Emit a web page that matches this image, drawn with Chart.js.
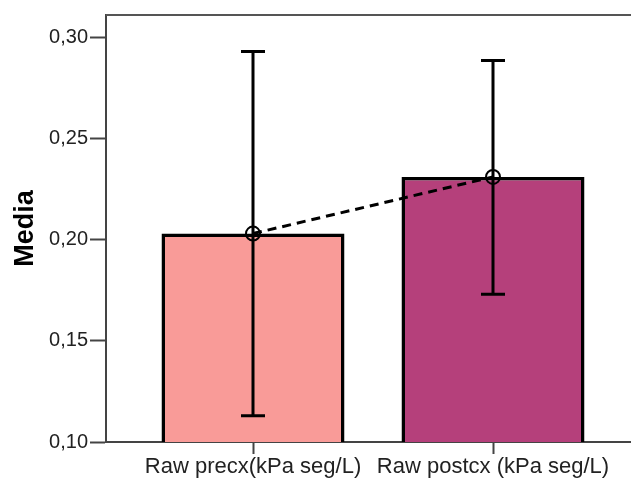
<!DOCTYPE html>
<html lang="es">
<head>
  <meta charset="UTF-8">
  <title>Media Raw</title>
  <style>
    body {
      margin: 0;
      background: #fff;
      overflow: hidden;
    }
    .chart-box {
      width: 631px;
      height: 481px;
    }
  </style>
</head>
<body>
  <div class="chart-box">
    <canvas id="mediaChart" width="631" height="481"></canvas>
  </div>

  <script src="https://cdn.jsdelivr.net/npm/chart.js@4"></script>
  <script>
    // Means with their 95% CI limits
    const categories = ['Raw precx(kPa seg/L)', 'Raw postcx (kPa seg/L)'];
    const means = [0.203, 0.231];
    const ciLower = [0.113, 0.173];
    const ciUpper = [0.293, 0.2885];
    const barColors = ['#f99b98', '#b5407b'];
    const yTicks = [0.10, 0.15, 0.20, 0.25, 0.30];

    const FONT = "'Liberation Sans', Arial, sans-serif";

    // error bars with caps, drawn over the bars and the mean line
    const errorBars = {
      id: 'errorBars',
      afterDatasetsDraw(chart) {
        const { ctx, scales: { x, y } } = chart;
        ctx.save();
        ctx.strokeStyle = '#000';
        ctx.lineWidth = 3;
        means.forEach((m, i) => {
          const px = x.getPixelForValue(i);
          const top = y.getPixelForValue(ciUpper[i]);
          const bot = y.getPixelForValue(ciLower[i]);
          ctx.beginPath();
          ctx.moveTo(px, top); ctx.lineTo(px, bot);
          ctx.moveTo(px - 12, top); ctx.lineTo(px + 12, top);
          ctx.moveTo(px - 12, bot); ctx.lineTo(px + 12, bot);
          ctx.stroke();
        });
        ctx.restore();
      }
    };

    // top edge of the plot frame
    const topFrame = {
      id: 'topFrame',
      afterDraw(chart) {
        const { ctx, chartArea: a } = chart;
        ctx.save();
        ctx.strokeStyle = '#555';
        ctx.lineWidth = 2;
        ctx.beginPath();
        ctx.moveTo(a.left, a.top);
        ctx.lineTo(a.right, a.top);
        ctx.stroke();
        ctx.restore();
      }
    };

    const ctx = document.getElementById('mediaChart').getContext('2d');
    new Chart(ctx, {
      type: 'bar',
      data: {
        datasets: [
          {
            type: 'line',
            data: means.map((v, i) => ({ x: i, y: v })),
            borderColor: '#000',
            borderWidth: 3,
            borderDash: [9, 6],
            pointRadius: 7,
            pointBorderWidth: 2,
            pointBackgroundColor: 'rgba(0,0,0,0)',
            pointBorderColor: '#000',
            fill: false,
            order: 0
          },
          {
            data: means.map((v, i) => ({ x: i, y: v })),
            backgroundColor: barColors,
            borderColor: '#000',
            borderWidth: 3.5,
            categoryPercentage: 1,
            barPercentage: 0.7625,
            order: 1
          }
        ]
      },
      options: {
        responsive: false,
        animation: false,
        layout: { autoPadding: false, padding: { top: 15, right: 0, left: 0, bottom: 0 } },
        plugins: {
          legend: { display: false },
          tooltip: { enabled: false }
        },
        scales: {
          x: {
            type: 'linear',
            min: -0.6125,
            max: 1.575,
            offset: false,
            afterBuildTicks: s => { s.ticks = categories.map((c, i) => ({ value: i })); },
            afterFit: s => {
              s.height = 39;
              s.paddingLeft = 0;
              s.paddingRight = 0;
            },
            grid: {
              offset: false,
              drawOnChartArea: false,
              drawTicks: true,
              tickLength: 12,
              tickWidth: 2,
              tickColor: '#444'
            },
            border: { color: '#444', width: 2 },
            ticks: {
              padding: 0,
              maxRotation: 0,
              autoSkip: false,
              color: '#222',
              font: { family: FONT, size: 22 },
              callback: v => categories[v]
            }
          },
          y: {
            min: 0.10,
            max: 0.311,
            afterBuildTicks: s => { s.ticks = yTicks.map(v => ({ value: v })); },
            afterFit: s => { s.width = 106; },
            grid: {
              drawOnChartArea: false,
              drawTicks: true,
              tickLength: 16,
              tickWidth: 2,
              tickColor: '#444'
            },
            border: { color: '#444', width: 2 },
            title: {
              display: true,
              text: 'Media',
              color: '#000',
              padding: { top: 9, bottom: 0 },
              font: { family: FONT, size: 27, weight: 'bold' }
            },
            ticks: {
              padding: 2,
              color: '#222',
              font: { family: FONT, size: 20 },
              callback: v => v.toFixed(2).replace('.', ',')
            }
          }
        }
      },
      plugins: [errorBars, topFrame]
    });
  </script>
</body>
</html>
